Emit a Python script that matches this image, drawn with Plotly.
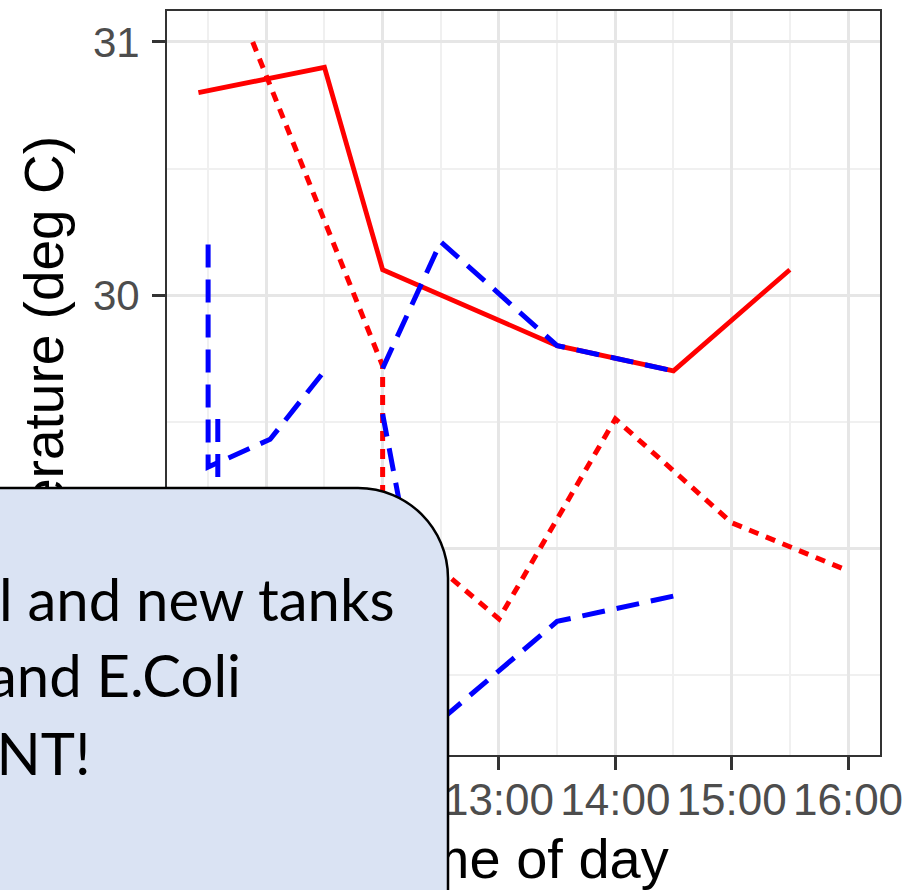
import plotly.graph_objects as go

DAY = "2000-01-01 "

# ---- readings: temperature (deg C) against time of day ----
red_solid_time = ["10:25", "11:30", "12:00", "13:30", "14:30", "15:30"]
red_solid_temp = [30.80, 30.90, 30.10, 29.80, 29.70, 30.10]

red_dot_time = ["10:53", "12:00", "12:00", "13:00", "14:00", "15:00", "16:00"]
red_dot_temp = [31.00, 29.72, 29.11, 28.72, 29.51, 29.10, 28.91]

# blue dashed runs (one list per run)
blue_runs_time = [
    ["10:30", "10:30", "11:02", "11:30"],
    ["10:35", "10:35"],
    ["12:00", "12:30", "13:30", "14:30"],
    ["12:00", "12:30", "13:30", "14:30"],
]
blue_runs_temp = [
    [30.20, 29.32, 29.43, 29.70],
    [29.51, 28.40],
    [29.71, 30.21, 29.80, 29.70],
    [29.53, 28.32, 28.71, 28.81],
]

x_range = ["10:08:48", "16:16:30"]
y_range = [28.182, 31.1225]
x_title = "Time of day"
y_title = "Temperature (deg C)"

note_lines = ["l and new tanks", "and E.Coli", "ENT!"]

# ---- page geometry (pixels) ----
W, H = 911, 890
L, R, T, B = 167, 880, 11, 755


def px(x):
    return (x - L) / (R - L)


def py(y):
    return (B - y) / (B - T)


def stamp(times):
    return [DAY + t for t in times]


fig = go.Figure()

fig.add_trace(go.Scatter(
    x=stamp(red_solid_time), y=red_solid_temp, mode="lines",
    line=dict(color="#ff0000", width=4.8), showlegend=False, hoverinfo="skip"))

fig.add_trace(go.Scatter(
    x=stamp(red_dot_time), y=red_dot_temp, mode="lines",
    line=dict(color="#ff0000", width=5, dash="10px,8px"),
    showlegend=False, hoverinfo="skip"))

bx, by = [], []
for ts, vs in zip(blue_runs_time, blue_runs_temp):
    bx += stamp(ts) + [None]
    by += vs + [None]
fig.add_trace(go.Scatter(
    x=bx, y=by, mode="lines", connectgaps=False,
    line=dict(color="#0000ff", width=5, dash="23px,12px"),
    showlegend=False, hoverinfo="skip"))

# helper traces so the title axes exist
fig.add_trace(go.Scatter(x=[], y=[], xaxis="x2", yaxis="y", showlegend=False))
fig.add_trace(go.Scatter(x=[], y=[], xaxis="x", yaxis="y2", showlegend=False))

xr = [DAY + v for v in x_range]
grid_major = "#e6e6e6"
grid_minor = "#f0f0f0"
sans = "Liberation Sans, Arial, sans-serif"

fig.update_layout(
    width=W, height=H,
    margin=dict(l=L, r=W - R, t=T, b=H - B, pad=0, autoexpand=False),
    paper_bgcolor="white", plot_bgcolor="white",
    xaxis=dict(
        type="date", range=xr, tickformat="%H:%M", dtick=3600000,
        tick0=DAY + "00:00", automargin=False,
        showgrid=True, gridcolor=grid_major, gridwidth=2.5,
        minor=dict(dtick=1800000, showgrid=True, gridcolor=grid_minor, gridwidth=1.5),
        ticks="outside", ticklen=13, tickwidth=3, tickcolor="#333333",
        tickfont=dict(family=sans, size=44, color="#4d4d4d"), ticklabelstandoff=-8,
        showline=True, mirror=True, linecolor="#333333", linewidth=2,
        zeroline=False, fixedrange=True,
    ),
    yaxis=dict(
        range=y_range, dtick=1, tick0=0, automargin=False,
        showgrid=True, gridcolor=grid_major, gridwidth=2.5,
        minor=dict(dtick=0.5, showgrid=True, gridcolor=grid_minor, gridwidth=1.5),
        ticks="outside", ticklen=13, tickwidth=3, tickcolor="#333333",
        tickfont=dict(family=sans, size=42, color="#4d4d4d"),
        ticklabelstandoff=4,
        showline=True, mirror=True, linecolor="#333333", linewidth=2,
        zeroline=False, fixedrange=True,
    ),
    xaxis2=dict(
        type="date", range=xr, overlaying="x", anchor="y", side="bottom",
        automargin=False,
        tickmode="array", tickvals=[DAY + "13:12:39"], ticktext=[x_title],
        tickfont=dict(family=sans, size=56, color="#000000"),
        ticks="", showgrid=False, showline=False, zeroline=False,
        ticklabelstandoff=66, fixedrange=True,
    ),
    yaxis2=dict(
        range=y_range, overlaying="y", anchor="x", side="left",
        automargin=False,
        tickmode="array",
        tickvals=[(y_range[0] + y_range[1]) / 2 - 15 / 253], ticktext=[y_title],
        tickangle=-90,
        tickfont=dict(family=sans, size=55, color="#000000"),
        ticks="", showgrid=False, showline=False, zeroline=False,
        ticklabelstandoff=92, fixedrange=True,
    ),
)

# callout box with rounded top-right corner
r = 90
k = 0.5523 * r
left, top, right, bottom = -30, 488, 448, 920
path = (
    f"M {px(left)},{py(top)} L {px(right - r)},{py(top)} "
    f"C {px(right - r + k)},{py(top)} {px(right)},{py(top + r - k)} {px(right)},{py(top + r)} "
    f"L {px(right)},{py(bottom)} L {px(left)},{py(bottom)} Z"
)
fig.add_shape(type="path", path=path, xref="paper", yref="paper", layer="above",
              fillcolor="#dae3f3", line=dict(color="#000000", width=2.5))

note_right = [397, 243, 93]
note_mid = [598, 674, 752]
for txt, xr_px, ym in zip(note_lines, note_right, note_mid):
    fig.add_annotation(
        text=txt, xref="paper", yref="paper", x=px(xr_px), y=py(ym),
        xanchor="right", yanchor="middle", showarrow=False, align="left",
        font=dict(family="Lato, Carlito, sans-serif", size=58, color="#000000"),
    )

fig.write_html("out.html", config={"displayModeBar": False})
